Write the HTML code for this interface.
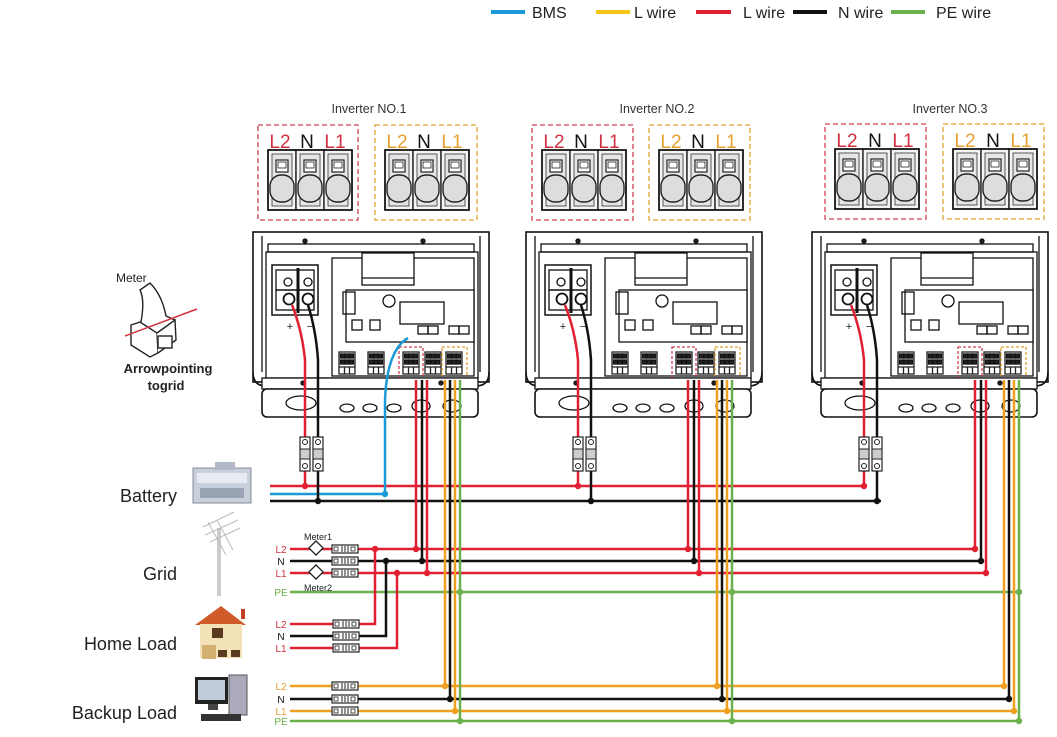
<!DOCTYPE html>
<html><head><meta charset="utf-8"><style>
html,body{margin:0;padding:0;background:#fff;}
svg{display:block;font-family:"Liberation Sans",sans-serif;}
</style></head><body>
<svg width="1057" height="737" viewBox="0 0 1057 737" xmlns="http://www.w3.org/2000/svg">
<defs>
<g id="blk">
 <rect x="0" y="0" width="28" height="60" fill="#f4f4f4" stroke="#222" stroke-width="1.4"/>
 <rect x="4" y="4" width="20" height="52" fill="#e6e6e6" stroke="#333" stroke-width="0.8"/>
 <rect x="8" y="10" width="12" height="12" fill="#fff" stroke="#222" stroke-width="1.2"/>
 <rect x="10" y="12" width="8" height="6" fill="none" stroke="#222" stroke-width="0.8"/>
 <rect x="2" y="25" width="24" height="27" rx="11" fill="#ddd" stroke="#222" stroke-width="1.4"/>
</g>
<g id="term">
 <use href="#blk" x="10" y="27"/><use href="#blk" x="38" y="27"/><use href="#blk" x="66" y="27"/>
 <rect x="10" y="27" width="84" height="60" fill="none" stroke="#111" stroke-width="1.6"/>
</g>
<g id="fuse">
 <rect x="-5" y="0" width="10" height="34" fill="#fff" stroke="#222" stroke-width="1.2"/>
 <circle cx="0" cy="5" r="2.5" fill="none" stroke="#222"/>
 <circle cx="0" cy="29" r="2.5" fill="none" stroke="#222"/>
 <rect x="-5" y="12" width="10" height="10" fill="#ccc" stroke="#222"/>
</g>
<g id="brk">
 <rect x="0" y="-4" width="26" height="8" fill="#fff" stroke="#222" stroke-width="1.2"/>
 <rect x="2" y="-2" width="4" height="4" fill="none" stroke="#222" stroke-width="0.8"/>
 <line x1="10" y1="-3" x2="10" y2="3" stroke="#222"/><line x1="13" y1="-3" x2="13" y2="3" stroke="#222"/><line x1="16" y1="-3" x2="16" y2="3" stroke="#222"/>
 <rect x="19" y="-2" width="4" height="4" fill="none" stroke="#222" stroke-width="0.8"/>
</g>
<g id="relay">
 <rect x="0" y="0" width="16" height="22" fill="#fff" stroke="#222"/>
 <rect x="1.5" y="2" width="4" height="4" fill="#222"/><rect x="6" y="2" width="4" height="4" fill="#222"/><rect x="10.5" y="2" width="4" height="4" fill="#222"/>
 <rect x="1.5" y="8" width="4" height="4" fill="#222"/><rect x="6" y="8" width="4" height="4" fill="#222"/><rect x="10.5" y="8" width="4" height="4" fill="#222"/>
 <line x1="0" y1="15" x2="16" y2="15" stroke="#222"/><line x1="5.5" y1="15" x2="5.5" y2="22" stroke="#222"/><line x1="10.5" y1="15" x2="10.5" y2="22" stroke="#222"/>
</g>
<g id="inv" fill="none" stroke="#111" stroke-width="1.3">
 <rect x="253" y="232" width="236" height="150" fill="#fff" stroke-width="1.6"/>
 <line x1="262" y1="236" x2="262" y2="372"/><line x1="480" y1="236" x2="480" y2="372"/>
 <rect x="268" y="244" width="206" height="8" fill="#fff"/>
 <circle cx="305" cy="241" r="2" fill="#222"/><circle cx="423" cy="241" r="2" fill="#222"/>
 <rect x="266" y="252" width="212" height="126"/>
 <rect x="272" y="265" width="46" height="50" fill="#fff" stroke-width="1.5"/>
 <rect x="276" y="270" width="38" height="20"/>
 <circle cx="288" cy="282" r="4"/><circle cx="308" cy="282" r="4"/>
 <rect x="276" y="290" width="38" height="20"/>
 <circle cx="289" cy="299" r="5.5" stroke-width="1.8"/><circle cx="308" cy="299" r="5.5" stroke-width="1.8"/>
 <line x1="298" y1="268" x2="298" y2="313" stroke-width="3"/>
 <text x="290" y="330" font-size="11" fill="#222" stroke="none" text-anchor="middle">+</text>
 <text x="310" y="330" font-size="11" fill="#222" stroke="none" text-anchor="middle">−</text>
 <rect x="332" y="258" width="142" height="118"/>
 <rect x="362" y="253" width="52" height="32" fill="#fff"/>
 <line x1="362" y1="278" x2="414" y2="278"/>
 <rect x="346" y="290" width="128" height="52" fill="#fff"/>
 <circle cx="389" cy="301" r="6"/>
 <rect x="400" y="302" width="44" height="22" fill="#fff"/>
 <rect x="343" y="292" width="12" height="22"/>
 <rect x="352" y="320" width="10" height="10"/><rect x="370" y="320" width="10" height="10"/>
 <rect x="418" y="326" width="10" height="8"/><rect x="428" y="326" width="10" height="8"/><rect x="449" y="326" width="10" height="8"/><rect x="459" y="326" width="10" height="8"/>
 <use href="#relay" x="339" y="352"/><use href="#relay" x="368" y="352"/>
 <use href="#relay" x="403" y="352"/><use href="#relay" x="425" y="352"/><use href="#relay" x="446" y="352"/>
 <rect x="399" y="347" width="24" height="32" stroke="#d04050" stroke-dasharray="3,2"/>
 <rect x="442" y="347" width="25" height="32" stroke="#e0a030" stroke-dasharray="3,2"/>
 <path d="M253 372 Q253 386 266 386 L476 386 Q489 386 489 372" stroke-width="1.6"/>
 <rect x="262" y="378" width="216" height="11" fill="#fff"/>
 <circle cx="303" cy="383" r="2" fill="#222"/><circle cx="441" cy="383" r="2" fill="#222"/>
 <rect x="262" y="389" width="216" height="28" rx="5" fill="#fff" stroke-width="1.6"/>
 <ellipse cx="301" cy="403" rx="15" ry="7"/>
 <ellipse cx="347" cy="408" rx="7" ry="4"/><ellipse cx="370" cy="408" rx="7" ry="4"/><ellipse cx="394" cy="408" rx="7" ry="4"/>
 <ellipse cx="421" cy="406" rx="9" ry="6"/><ellipse cx="452" cy="406" rx="9" ry="6"/>
</g>
</defs>

<g font-size="16" fill="#222">
<line x1="491" y1="12" x2="525" y2="12" stroke="#1a9ad6" stroke-width="4"/><text x="532" y="18">BMS</text>
<line x1="596" y1="12" x2="630" y2="12" stroke="#f5c518" stroke-width="4"/><text x="634" y="18">L wire</text>
<line x1="696" y1="12" x2="731" y2="12" stroke="#e02030" stroke-width="4"/><text x="743" y="18">L wire</text>
<line x1="793" y1="12" x2="827" y2="12" stroke="#111" stroke-width="4"/><text x="838" y="18">N wire</text>
<line x1="891" y1="12" x2="925" y2="12" stroke="#6ab04c" stroke-width="4"/><text x="936" y="18">PE wire</text>
</g>

<g font-size="12.5" fill="#333" text-anchor="middle">
<text x="369" y="113">Inverter NO.1</text><text x="657" y="113">Inverter NO.2</text><text x="950" y="113">Inverter NO.3</text>
</g>
<g fill="none" stroke-width="1.3" stroke-dasharray="5,3">
<rect x="258" y="125" width="100" height="95" stroke="#d04050"/>
<rect x="375" y="125" width="102" height="95" stroke="#e0a030"/>
<rect x="532" y="125" width="101" height="95" stroke="#d04050"/>
<rect x="649" y="125" width="101" height="95" stroke="#e0a030"/>
<rect x="825" y="124" width="101" height="95" stroke="#d04050"/>
<rect x="943" y="124" width="101" height="95" stroke="#e0a030"/>
</g>
<use href="#term" x="258" y="123"/><use href="#term" x="375" y="123"/>
<use href="#term" x="532" y="123"/><use href="#term" x="649" y="123"/>
<use href="#term" x="825" y="122"/><use href="#term" x="943" y="122"/>
<g font-size="19" text-anchor="middle">
<text x="280" y="148" fill="#d03040">L2</text><text x="307" y="148" fill="#111">N</text><text x="335" y="148" fill="#d03040">L1</text>
<text x="397" y="148" fill="#e6a030">L2</text><text x="424" y="148" fill="#111">N</text><text x="452" y="148" fill="#e6a030">L1</text>
<text x="554" y="148" fill="#d03040">L2</text><text x="581" y="148" fill="#111">N</text><text x="609" y="148" fill="#d03040">L1</text>
<text x="671" y="148" fill="#e6a030">L2</text><text x="698" y="148" fill="#111">N</text><text x="726" y="148" fill="#e6a030">L1</text>
<text x="847" y="147" fill="#d03040">L2</text><text x="875" y="147" fill="#111">N</text><text x="903" y="147" fill="#d03040">L1</text>
<text x="965" y="147" fill="#e6a030">L2</text><text x="993" y="147" fill="#111">N</text><text x="1021" y="147" fill="#e6a030">L1</text>
</g>

<use href="#inv"/>
<use href="#inv" transform="translate(273,0)"/>
<use href="#inv" transform="translate(559,0)"/>

<g fill="#fff" stroke="#222" stroke-width="1.4">
<text x="116" y="282" font-size="12" fill="#222" stroke="none">Meter</text>
<path d="M131 325 L140 322 L157 333 L158 353 L150 357 L131 345 Z"/>
<path d="M157 333 L175 320 L176 340 L158 353"/>
<path d="M141 322 Q145 300 140 290 L150 283 Q162 295 166 316 L175 320"/>
<rect x="158" y="336" width="14" height="12" fill="#fff"/>
<line x1="125" y1="336" x2="197" y2="309" stroke="#d03040" stroke-width="1.5"/>
</g>
<text x="168" y="373" font-size="13" font-weight="bold" fill="#222" text-anchor="middle">Arrowpointing</text>
<text x="166" y="390" font-size="13" font-weight="bold" fill="#222" text-anchor="middle">togrid</text>

<g font-size="18" fill="#222" text-anchor="end">
<text x="177" y="502">Battery</text><text x="177" y="580">Grid</text>
<text x="177" y="650">Home Load</text><text x="177" y="719">Backup Load</text>
</g>
<g>
<rect x="193" y="468" width="58" height="35" fill="#c8d0dc" stroke="#889"/>
<rect x="197" y="473" width="50" height="10" fill="#e8ecf2"/><rect x="200" y="488" width="44" height="10" fill="#9aa4b4"/>
<rect x="215" y="462" width="20" height="8" fill="#b0b8c8"/>
</g>
<g stroke="#bbb" stroke-width="1" fill="none">
<line x1="219" y1="528" x2="219" y2="596" stroke="#ccc" stroke-width="4"/>
<line x1="203" y1="527" x2="234" y2="512"/><line x1="205" y1="535" x2="238" y2="520"/><line x1="210" y1="542" x2="240" y2="528"/>
<line x1="208" y1="522" x2="226" y2="555"/><line x1="217" y1="520" x2="233" y2="550"/>
</g>
<g>
<polygon points="195,625 221,606 246,625" fill="#d05a2a"/>
<rect x="241" y="609" width="4" height="10" fill="#c04020"/>
<rect x="200" y="624" width="42" height="34" fill="#f3e2b8"/>
<rect x="212" y="628" width="11" height="10" fill="#5a3a20"/>
<rect x="202" y="645" width="14" height="14" fill="#d4b070"/>
<rect x="218" y="650" width="9" height="7" fill="#5a3a20"/><rect x="231" y="650" width="9" height="7" fill="#5a3a20"/>
</g>
<g>
<rect x="195" y="677" width="33" height="27" fill="#222"/>
<rect x="198" y="680" width="27" height="20" fill="#c0ccd8"/>
<rect x="229" y="675" width="18" height="40" fill="#aab" stroke="#555"/>
<rect x="201" y="714" width="40" height="7" fill="#333"/>
<rect x="208" y="704" width="10" height="6" fill="#444"/>
</g>

<g fill="none" stroke-width="2.5">
<line x1="270" y1="486" x2="866" y2="486" stroke="#e02030"/>
<line x1="270" y1="494" x2="385" y2="494" stroke="#1a9ad6"/>
<line x1="270" y1="501" x2="881" y2="501" stroke="#111"/>
<path d="M385 494 L385 400 Q387 350 408 338" stroke="#1a9ad6"/>
<g id="bv">
<path d="M305 486 L305 360 Q302 330 292 305" stroke="#e02030"/>
<path d="M318 501 L318 360 Q316 330 308 305" stroke="#111"/>
</g>
<use href="#bv" transform="translate(273,0)"/><use href="#bv" transform="translate(559,0)"/>
<line x1="290" y1="549" x2="975" y2="549" stroke="#e02030"/>
<line x1="290" y1="561" x2="981" y2="561" stroke="#111"/>
<line x1="290" y1="573" x2="987" y2="573" stroke="#e02030"/>
<line x1="290" y1="592" x2="1020" y2="592" stroke="#6ab04c"/>
<polyline points="290,624 375,624 375,549" stroke="#e02030"/>
<polyline points="290,636 386,636 386,561" stroke="#111"/>
<polyline points="290,648 397,648 397,573" stroke="#e02030"/>
<line x1="290" y1="686" x2="1004" y2="686" stroke="#f0a020"/>
<line x1="290" y1="699" x2="1010" y2="699" stroke="#111"/>
<line x1="290" y1="711" x2="1015" y2="711" stroke="#f0a020"/>
<line x1="290" y1="721" x2="1020" y2="721" stroke="#6ab04c"/>
<g id="gv">
<line x1="416" y1="380" x2="416" y2="549" stroke="#e02030"/>
<line x1="422" y1="380" x2="422" y2="561" stroke="#111"/>
<line x1="427" y1="380" x2="427" y2="573" stroke="#e02030"/>
<line x1="445" y1="380" x2="445" y2="686" stroke="#f0a020"/>
<line x1="450" y1="380" x2="450" y2="699" stroke="#111"/>
<line x1="455" y1="380" x2="455" y2="711" stroke="#f0a020"/>
<line x1="460" y1="380" x2="460" y2="721" stroke="#6ab04c"/>
</g>
<use href="#gv" transform="translate(272,0)"/><use href="#gv" transform="translate(559,0)"/>
</g>
<g id="fz"><use href="#fuse" x="305" y="437"/><use href="#fuse" x="318" y="437"/></g>
<use href="#fz" transform="translate(273,0)"/><use href="#fz" transform="translate(559,0)"/>

<g id="dt">
<circle cx="416" cy="549" r="3.2" fill="#e02030"/><circle cx="422" cy="561" r="3.2" fill="#111"/><circle cx="427" cy="573" r="3.2" fill="#e02030"/>
<circle cx="460" cy="592" r="3.2" fill="#6ab04c"/>
<circle cx="445" cy="686" r="3.2" fill="#f0a020"/><circle cx="450" cy="699" r="3.2" fill="#111"/><circle cx="455" cy="711" r="3.2" fill="#f0a020"/><circle cx="460" cy="721" r="3.2" fill="#6ab04c"/>
</g>
<use href="#dt" transform="translate(272,0)"/><use href="#dt" transform="translate(559,0)"/>
<circle cx="305" cy="486" r="3.2" fill="#e02030"/><circle cx="318" cy="501" r="3.2" fill="#111"/><circle cx="385" cy="494" r="3.2" fill="#1a9ad6"/>
<circle cx="578" cy="486" r="3.2" fill="#e02030"/><circle cx="591" cy="501" r="3.2" fill="#111"/>
<circle cx="864" cy="486" r="3.2" fill="#e02030"/><circle cx="877" cy="501" r="3.2" fill="#111"/>
<circle cx="375" cy="549" r="3.2" fill="#e02030"/><circle cx="386" cy="561" r="3.2" fill="#111"/><circle cx="397" cy="573" r="3.2" fill="#e02030"/>

<use href="#brk" x="332" y="549"/><use href="#brk" x="332" y="561"/><use href="#brk" x="332" y="573"/>
<use href="#brk" x="333" y="624"/><use href="#brk" x="333" y="636"/><use href="#brk" x="333" y="648"/>
<use href="#brk" x="332" y="686"/><use href="#brk" x="332" y="699"/><use href="#brk" x="332" y="711"/>
<g fill="#fff" stroke="#222" stroke-width="1.3">
<rect x="311" y="543" width="10" height="10" transform="rotate(45 316 548)"/>
<rect x="311" y="567" width="10" height="10" transform="rotate(45 316 572)"/>
</g>
<g font-size="9" fill="#222"><text x="304" y="540">Meter1</text><text x="304" y="591">Meter2</text></g>
<g font-size="10" text-anchor="middle">
<text x="281" y="553" fill="#d03040">L2</text><text x="281" y="565" fill="#111">N</text><text x="281" y="577" fill="#d03040">L1</text><text x="281" y="596" fill="#6ab04c">PE</text>
<text x="281" y="628" fill="#d03040">L2</text><text x="281" y="640" fill="#111">N</text><text x="281" y="652" fill="#d03040">L1</text>
<text x="281" y="690" fill="#e6a030">L2</text><text x="281" y="703" fill="#111">N</text><text x="281" y="715" fill="#e6a030">L1</text><text x="281" y="725" fill="#6ab04c">PE</text>
</g>
</svg>
</body></html>
